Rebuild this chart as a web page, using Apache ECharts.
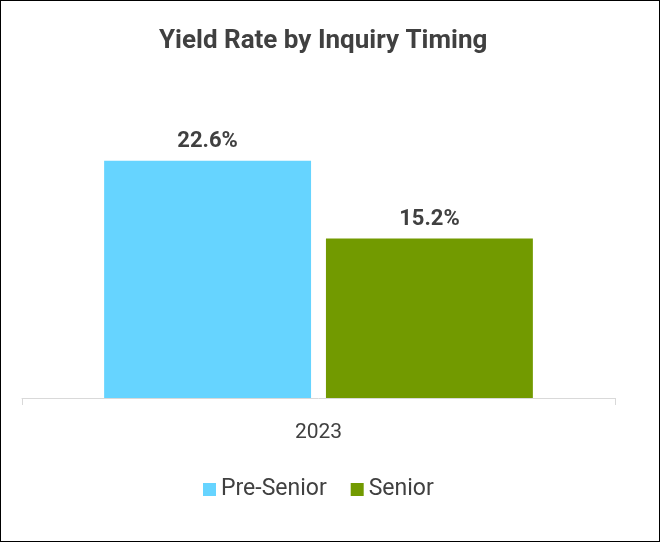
<!DOCTYPE html>
<html>
<head>
<meta charset="utf-8">
<script src="https://cdn.jsdelivr.net/npm/echarts@6/dist/echarts.min.js"></script>
<style>
  html, body { margin: 0; padding: 0; background: #fff; }
  #main { width: 660px; height: 542px; box-sizing: border-box; border: 1px solid #000; }
</style>
</head>
<body>
<div id="main"></div>
<script>
var categories = ['2023'];
var seriesNames = ['Pre-Senior', 'Senior'];
var preSenior = [22.6];
var senior = [15.2];

var myChart = echarts.init(document.getElementById('main'));

var labelStyle = {
    show: true,
    position: 'top',
    distance: 8,
    formatter: function (p) { return p.value.toFixed(1) + '%'; },
    color: '#404040',
    fontSize: 22,
    fontWeight: 'bold',
    fontFamily: 'Roboto'
};

var option = {
    backgroundColor: '#fff',
    title: {
        text: 'Yield Rate by Inquiry Timing',
        left: 153,
        top: 22,
        textStyle: { color: '#404040', fontSize: 26, fontWeight: 'bold', fontFamily: 'Roboto' }
    },
    legend: {
        data: seriesNames,
        bottom: 35,
        left: 197,
        itemWidth: 13,
        itemHeight: 13,
        itemGap: 24,
        icon: 'rect',
        textStyle: { color: '#404040', fontSize: 23, fontFamily: 'Roboto' }
    },
    grid: { left: 21, right: 44, top: 82, bottom: 143 },
    xAxis: {
        type: 'category',
        data: categories,
        axisLine: { lineStyle: { color: '#d9d9d9' } },
        axisTick: { show: true, alignWithLabel: false, length: 7, lineStyle: { color: '#d9d9d9' } },
        axisLabel: { color: '#404040', fontSize: 21, margin: 24, fontFamily: 'Roboto' }
    },
    yAxis: {
        type: 'value',
        min: 0,
        max: 30,
        show: false,
        splitLine: { show: false }
    },
    series: [
        {
            name: seriesNames[0],
            type: 'bar',
            data: preSenior,
            barGap: '7.2%',
            barCategoryGap: '27.7%',
            itemStyle: { color: '#66D4FF' },
            label: labelStyle
        },
        {
            name: seriesNames[1],
            type: 'bar',
            data: senior,
            itemStyle: { color: '#729A00' },
            label: labelStyle
        }
    ]
};

myChart.setOption(option);
</script>
</body>
</html>
